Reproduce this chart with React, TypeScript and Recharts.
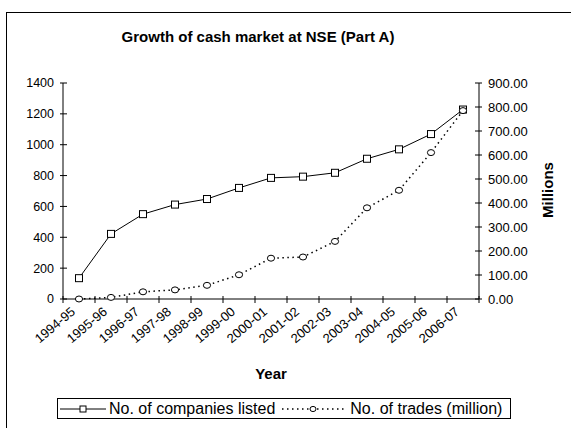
import React from "react";
import { LineChart, Line, XAxis, YAxis, Label } from "recharts";

const years = [
  "1994-95", "1995-96", "1996-97", "1997-98", "1998-99", "1999-00", "2000-01",
  "2001-02", "2002-03", "2003-04", "2004-05", "2005-06", "2006-07",
];
const companiesListed = [135, 422, 550, 612, 648, 720, 785, 793, 818, 909, 970, 1069, 1228];
const tradesMillion = [0.02, 6.7, 30, 38, 57, 101, 170, 175, 240, 380, 453, 610, 785];

const leftTicks = [0, 200, 400, 600, 800, 1000, 1200, 1400];
const rightTicks = [0, 100, 200, 300, 400, 500, 600, 700, 800, 900];

const seriesNames = ["No. of companies listed", "No. of trades (million)"];

const rows = years.map((year, i) => ({
  year,
  companies: companiesListed[i],
  trades: tradesMillion[i],
}));

const FONT = "Arial, 'Liberation Sans', sans-serif";
const W = 571;
const H = 428;
const plotLeft = 63;
const plotRight = 479;
const halfBand = (plotRight - plotLeft) / years.length / 2;

const SquareDot = (p: any) => (
  <rect key={`sq-${p.index}`} x={p.cx - 3.5} y={p.cy - 3.5} width={7} height={7} fill="#fff" stroke="#000" strokeWidth={1} />
);
const CircleDot = (p: any) => (
  <ellipse key={`ci-${p.index}`} cx={p.cx} cy={p.cy} rx={3.6} ry={3} fill="#fff" stroke="#000" strokeWidth={1} />
);

const XTick = (p: any) => {
  const { x, y, payload, index } = p;
  const tx = x - 3;
  const ty = y + 14;
  return (
    <g>
      <line x1={x - halfBand} x2={x - halfBand} y1={y - 3} y2={y + 4} stroke="#000" />
      {index === years.length - 1 && (
        <line x1={x + halfBand} x2={x + halfBand} y1={y - 3} y2={y + 4} stroke="#000" />
      )}
      <text x={tx} y={ty} textAnchor="end" fontSize={13} fill="#000" fontFamily={FONT} transform={`rotate(-40 ${tx} ${ty})`}>
        {payload.value}
      </text>
    </g>
  );
};

const LeftTick = (p: any) => {
  const { x, y, payload } = p;
  return (
    <g>
      <line x1={x + 6} x2={x + 13} y1={y} y2={y} stroke="#000" />
      <text x={x} y={y} dy="0.35em" textAnchor="end" fontSize={12.5} fill="#000" fontFamily={FONT}>
        {payload.value}
      </text>
    </g>
  );
};

const RightTick = (p: any) => {
  const { x, y, payload } = p;
  return (
    <g>
      <line x1={x - 13} x2={x - 6} y1={y} y2={y} stroke="#000" />
      <text x={x} y={y} dy="0.35em" textAnchor="start" fontSize={13} fill="#000" fontFamily={FONT}>
        {Number(payload.value).toFixed(2)}
      </text>
    </g>
  );
};

function LegendBox() {
  return (
    <div
      style={{
        position: "absolute",
        left: 57,
        top: 398,
        height: 19,
        border: "1px solid #000",
        display: "flex",
        alignItems: "center",
        fontSize: 16,
        fontFamily: FONT,
        padding: "0 8px 0 2px",
        whiteSpace: "nowrap",
        background: "#fff",
      }}
    >
      <svg width={46} height={10}>
        <line x1={0} x2={46} y1={5} y2={5} stroke="#000" />
        <rect x={20} y={2} width={6} height={6} fill="#fff" stroke="#000" />
      </svg>
      <span style={{ marginLeft: 3 }}>{seriesNames[0]}</span>
      <svg width={64} height={10} style={{ marginLeft: 6 }}>
        <line x1={1} x2={64} y1={5} y2={5} stroke="#000" strokeWidth={1.5} strokeDasharray="1.5 3.5" />
        <ellipse cx={32} cy={5} rx={3} ry={2.6} fill="#fff" stroke="#000" />
      </svg>
      <span style={{ marginLeft: 5 }}>{seriesNames[1]}</span>
    </div>
  );
}

export default function App() {
  return (
    <div style={{ position: "absolute", left: 0, top: 0, width: W, height: H, background: "#fff", overflow: "hidden", fontFamily: FONT }}>
      <div style={{ position: "absolute", left: 6, top: 12, width: 620, height: 500, border: "1px solid #000" }} />
      <div style={{ position: "absolute", left: 0, top: 28, width: 516, textAlign: "center", fontSize: 15, fontWeight: "bold" }}>
        Growth of cash market at NSE (Part A)
      </div>
      <LineChart
        width={W}
        height={H}
        data={rows}
        margin={{ top: 83, right: 32, bottom: 69, left: 13 }}
        style={{ position: "absolute", left: 0, top: 0 }}
      >
        <XAxis
          dataKey="year"
          scale="band"
          interval={0}
          height={60}
          tickSize={0}
          tickMargin={0}
          tickLine={false}
          axisLine={{ stroke: "#000" }}
          tick={<XTick />}
        >
          <Label value="Year" position="bottom" offset={9} fontSize={15} fontWeight="bold" fill="#000" fontFamily={FONT} />
        </XAxis>
        <YAxis
          yAxisId="left"
          domain={[0, 1400]}
          ticks={leftTicks}
          width={50}
          tickSize={0}
          tickMargin={9}
          tickLine={false}
          axisLine={{ stroke: "#000" }}
          tick={<LeftTick />}
        />
        <YAxis
          yAxisId="right"
          orientation="right"
          domain={[0, 900]}
          ticks={rightTicks}
          width={60}
          tickSize={0}
          tickMargin={9}
          tickLine={false}
          axisLine={{ stroke: "#000" }}
          tick={<RightTick />}
        />
        <Line
          yAxisId="left"
          dataKey="companies"
          name={seriesNames[0]}
          stroke="#000"
          strokeWidth={1}
          dot={SquareDot}
          activeDot={false}
          isAnimationActive={false}
        />
        <Line
          yAxisId="right"
          dataKey="trades"
          name={seriesNames[1]}
          stroke="#000"
          strokeWidth={1.5}
          strokeDasharray="1.5 3.5"
          dot={CircleDot}
          activeDot={false}
          isAnimationActive={false}
        />
      </LineChart>
      <div
        style={{
          position: "absolute",
          left: 548 - 40,
          top: 190 - 9,
          width: 80,
          height: 18,
          lineHeight: "18px",
          textAlign: "center",
          fontSize: 15,
          fontWeight: "bold",
          transform: "rotate(-90deg)",
        }}
      >
        Millions
      </div>
      <LegendBox />
    </div>
  );
}
